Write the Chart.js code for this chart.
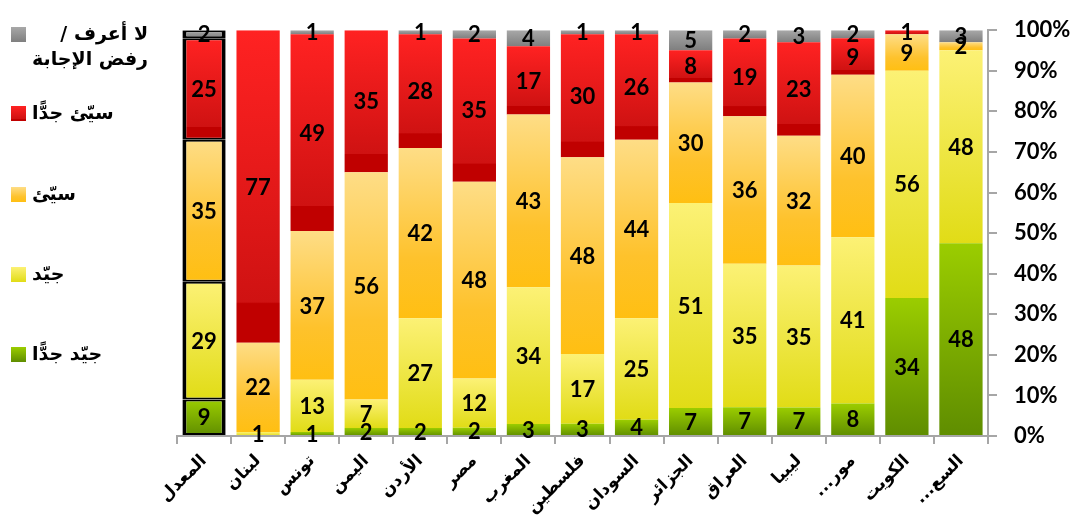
<!DOCTYPE html>
<html>
<head>
<meta charset="utf-8">
<script src="https://cdn.jsdelivr.net/npm/chart.js@4.4.1/dist/chart.umd.min.js"></script>
<style>
  html, body { margin: 0; padding: 0; background: #fff; }
  #wrap { position: relative; width: 1077px; height: 516px; }
  #legend .item { position: absolute; left: 11px; }
  #legend .sw { position: absolute; left: 0; width: 15px; height: 15px; }
  #legend .txt {
    position: absolute; left: 21px; white-space: pre; direction: rtl; text-align: right;
    font-family: "DejaVu Sans", sans-serif; font-weight: bold; font-size: 19px; line-height: 25px; color: #000;
  }
</style>
</head>
<body>
<div id="wrap">
  <canvas id="chart"></canvas>
  <div id="legend"></div>
</div>
<script>
// categories (left to right)
const countries = ['المعدل', 'لبنان', 'تونس', 'اليمن', 'الأردن', 'مصر', 'المغرب', 'فلسطين', 'السودان', 'الجزائر', 'العراق', 'ليبيا', 'مور...\u200F', 'الكويت', 'السع...\u200F'];

// series, bottom to top
const veryGood = [9, 0, 1, 2, 2, 2, 3, 3, 4, 7, 7, 7, 8, 34, 48];
const good     = [29, 1, 13, 7, 27, 12, 34, 17, 25, 51, 35, 35, 41, 56, 48];
const bad      = [35, 22, 37, 56, 42, 48, 43, 48, 44, 30, 36, 32, 40, 9, 2];
const veryBad  = [25, 77, 49, 35, 28, 35, 17, 30, 26, 8, 19, 23, 9, 1, 0];
const dontKnow = [2, 0, 1, 0, 1, 2, 4, 1, 1, 5, 2, 3, 2, 0, 3];

const seriesNames = ['جيّد جدًّا', 'جيّد', 'سيّئ', 'سيّئ جدًّا', 'لا أعرف /\nرفض الإجابة'];
const yTicks = [0, 10, 20, 30, 40, 50, 60, 70, 80, 90, 100];

const raw = [veryGood, good, bad, veryBad, dontKnow];
const totals = countries.map((_, i) => raw.reduce((s, arr) => s + arr[i], 0));
const pct = raw.map(arr => arr.map((v, i) => v / totals[i] * 100));

// gradient stops per series
const fills = [
  [[0, '#9bcd00'], [1, '#5f8d00']],
  [[0, '#fcf175'], [1, '#e1dc16']],
  [[0, '#fedd86'], [0.65, '#fec22c'], [1, '#ffbf12']],
  [[0, '#ff2222'], [0.87, '#cf1212'], [0.875, '#c00000'], [1, '#c00000']],
  [[0, '#a8a8a8'], [1, '#7f7f7f']]
];

function segFill(ctx) {
  const stops = fills[ctx.datasetIndex];
  const chart = ctx.chart;
  if (!chart.chartArea || ctx.type !== 'data' || !chart.scales.y) return stops[0][1];
  const d = ctx.datasetIndex, i = ctx.dataIndex;
  let lo = 0;
  for (let k = 0; k < d; k++) lo += pct[k][i];
  const hi = lo + pct[d][i];
  const top = chart.scales.y.getPixelForValue(hi);
  const bot = chart.scales.y.getPixelForValue(lo);
  if (!(bot - top > 0.5)) return stops[0][1];
  const g = chart.ctx.createLinearGradient(0, top, 0, bot);
  stops.forEach(s => g.addColorStop(s[0], s[1]));
  return g;
}

const valueLabels = {
  id: 'valueLabels',
  afterDatasetsDraw(chart) {
    const c = chart.ctx;
    c.save();
    c.font = 'bold 22px Lato, "DejaVu Sans", sans-serif';
    c.fillStyle = '#000';
    c.textAlign = 'center';
    c.textBaseline = 'middle';
    chart.data.datasets.forEach((ds, d) => {
      chart.getDatasetMeta(d).data.forEach((bar, i) => {
        const v = raw[d][i];
        if (!v) return;
        c.fillText(String(v), bar.x, (bar.y + bar.base) / 2 + 1);
      });
    });
    c.restore();
  }
};

const chart = new Chart(document.getElementById('chart'), {
  type: 'bar',
  data: {
    labels: countries,
    datasets: pct.map((arr, d) => ({
      label: seriesNames[d],
      data: arr,
      backgroundColor: segFill,
      borderColor: ctx => ctx.dataIndex === 0 ? '#000' : 'rgba(0,0,0,0)',
      borderWidth: ctx => ctx.dataIndex === 0 ? { top: 2, bottom: 2, left: 4, right: 4 } : 0,
      borderSkipped: false,
      barPercentage: 0.8,
      categoryPercentage: 1
    }))
  },
  options: {
    responsive: true,
    maintainAspectRatio: false,
    animation: false,
    layout: { padding: { left: 177, top: 26, right: 0, bottom: 0 } },
    plugins: { legend: { display: false }, tooltip: { enabled: false } },
    scales: {
      x: {
        stacked: true,
        grid: { drawOnChartArea: false, offset: true, color: '#a6a6a6', lineWidth: 2, tickLength: 8 },
        border: { color: '#a6a6a6', width: 2 },
        ticks: {
          autoSkip: false, minRotation: 45, maxRotation: 45, padding: 7, color: '#000',
          font: { family: '"DejaVu Sans", sans-serif', weight: 'bold', size: 17 }
        },
        afterFit: s => { s.height = 80; }
      },
      y: {
        stacked: true,
        position: 'right',
        min: 0,
        max: 100,
        afterBuildTicks: s => { s.ticks = yTicks.map(v => ({ value: v })); },
        grid: { drawOnChartArea: false, color: '#a6a6a6', lineWidth: 2, tickLength: 9 },
        border: { color: '#a6a6a6', width: 2 },
        ticks: {
          padding: 17, color: '#000',
          font: { family: 'Lato, sans-serif', weight: 'bold', size: 22 },
          callback: v => v + '%'
        },
        afterFit: s => { s.width = 89; }
      }
    }
  },
  plugins: [valueLabels]
});

// legend, top to bottom
const legendRows = [27, 106, 187, 267, 347];
const legendEl = document.getElementById('legend');
[4, 3, 2, 1, 0].forEach((d, r) => {
  const item = document.createElement('div');
  item.className = 'item';
  item.style.top = legendRows[r] + 'px';
  const sw = document.createElement('div');
  sw.className = 'sw';
  sw.style.background = 'linear-gradient(to bottom, ' + fills[d].map(s => s[1] + ' ' + (s[0] * 100) + '%').join(', ') + ')';
  const txt = document.createElement('div');
  txt.className = 'txt';
  txt.style.top = '-6px';
  txt.textContent = seriesNames[d];
  item.appendChild(sw);
  item.appendChild(txt);
  legendEl.appendChild(item);
});
</script>
</body>
</html>
